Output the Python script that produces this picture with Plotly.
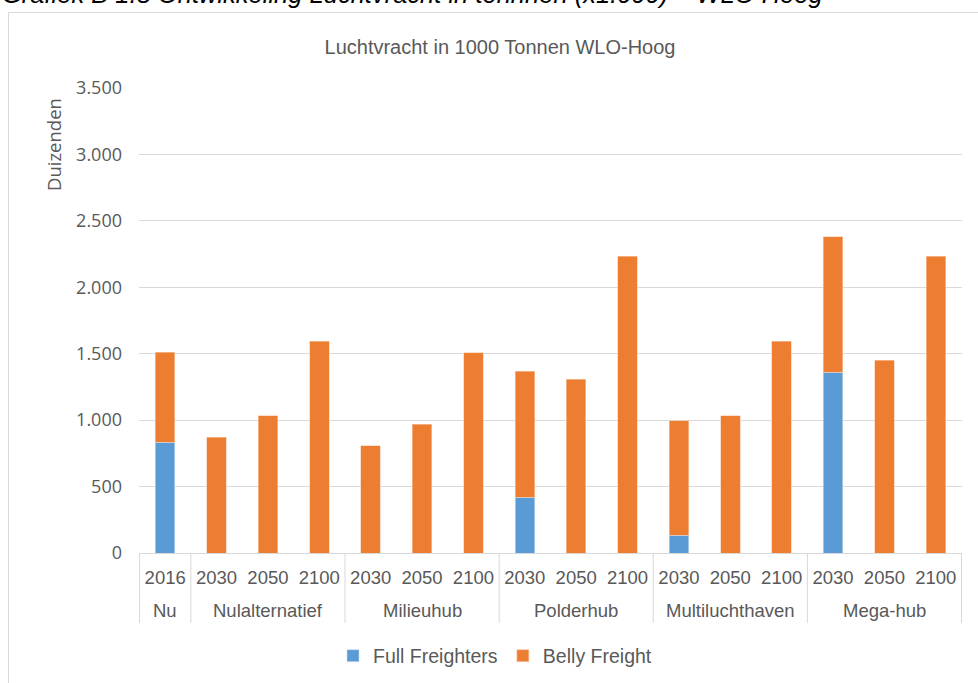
import plotly.graph_objects as go

# scenario groups and years
groups = ["Nu", "Nulalternatief", "Nulalternatief", "Nulalternatief",
          "Milieuhub", "Milieuhub", "Milieuhub",
          "Polderhub", "Polderhub", "Polderhub",
          "Multiluchthaven", "Multiluchthaven", "Multiluchthaven",
          "Mega-hub", "Mega-hub", "Mega-hub"]
years = ["2016", "2030", "2050", "2100",
         "2030", "2050", "2100",
         "2030", "2050", "2100",
         "2030", "2050", "2100",
         "2030", "2050", "2100"]

# values in 1000 tonnes (axis is "Duizenden")
full_freighters = [833, 0, 0, 0, 0, 0, 0, 419, 0, 0, 133, 0, 0, 1362, 0, 0]
belly_freight = [679, 870, 1033, 1593, 807, 968, 1507, 950, 1307, 2232,
                 862, 1033, 1595, 1018, 1450, 2232]

y_ticks = [0, 500, 1000, 1500, 2000, 2500, 3000, 3500]
y_tick_text = ["0", "500", "1.000", "1.500", "2.000", "2.500", "3.000", "3.500"]

BLUE = "#5B9BD5"
ORANGE = "#ED7D31"
GREY_TXT = "#595959"
GRID = "#D9D9D9"
SANS = "Liberation Sans, Arial, sans-serif"

# plot area in pixels
W, H = 978, 683
ML, MR, MT, MB = 139, 16, 88, 130
PW, PH = W - ML - MR, H - MT - MB


def px_x(px):
    return (px - ML) / PW


def px_y(py):
    return (H - MB - py) / PH


keys = [g + "|" + y for g, y in zip(groups, years)]

fig = go.Figure()
fig.add_trace(go.Bar(x=keys, y=full_freighters, name="Full Freighters",
                     marker=dict(color=BLUE, line=dict(width=0.6, color="#C9DDF0"))))
fig.add_trace(go.Bar(x=keys, y=belly_freight, name="Belly Freight",
                     marker=dict(color=ORANGE, line=dict(width=0.6, color="#F8CBAD"))))

fig.update_layout(
    width=W, height=H,
    margin=dict(l=ML, r=MR, t=MT, b=MB, autoexpand=False),
    barmode="stack", bargap=0.62,
    plot_bgcolor="white", paper_bgcolor="white",
    title=dict(text="Luchtvracht in 1000 Tonnen WLO-Hoog", xref="container", x=500 / W,
               xanchor="center", yref="container", y=1 - 47 / H, yanchor="middle",
               font=dict(family=SANS, size=20, color=GREY_TXT)),
    legend=dict(orientation="h", x=px_x(333), xanchor="left", y=px_y(656), yanchor="middle",
                font=dict(family=SANS, size=19.5, color=GREY_TXT), itemwidth=30,
                traceorder="normal", borderwidth=0),
    showlegend=True,
)

fig.update_xaxes(type="category", tickvals=keys, ticktext=years, automargin=False,
                 showline=True, linecolor=GRID, linewidth=1, ticks="",
                 ticklabelstandoff=8,
                 tickfont=dict(family=SANS, size=18.5, color=GREY_TXT), showgrid=False)
fig.update_yaxes(range=[0, 3500], tickvals=y_ticks, ticktext=y_tick_text, automargin=False,
                 showgrid=True, gridcolor=GRID, gridwidth=1, zeroline=False,
                 tickfont=dict(family="Open Sans, sans-serif", size=18, color=GREY_TXT),
                 ticklabelstandoff=16)

# y axis title near the top of the axis
fig.add_annotation(text="Duizenden", textangle=-90, xref="paper", yref="paper",
                   x=px_x(53), y=px_y(145), xanchor="center", yanchor="middle",
                   showarrow=False,
                   font=dict(family="Open Sans, sans-serif", size=18.5, color=GREY_TXT))

# group dividers and group labels under the year labels
bounds = [i for i in range(1, len(groups)) if groups[i] != groups[i - 1]]
edges = [0] + bounds + [len(groups)]
for e in edges:
    fig.add_shape(type="line", xref="x", yref="paper", x0=e - 0.5, x1=e - 0.5,
                  y0=0, y1=px_y(623), line=dict(color=GRID, width=1))
for a, b in zip(edges[:-1], edges[1:]):
    fig.add_annotation(text=groups[a], xref="x", yref="paper", x=(a + b - 1) / 2,
                       y=px_y(610), xanchor="center", yanchor="middle", showarrow=False,
                       font=dict(family=SANS, size=18.5, color=GREY_TXT))

# outer chart border
fig.add_shape(type="rect", xref="paper", yref="paper",
              x0=px_x(8.5), x1=px_x(990), y0=px_y(720), y1=px_y(12.5),
              line=dict(color=GRID, width=1), fillcolor="rgba(0,0,0,0)", layer="below")

# document caption, partly cut off at the top of the picture
fig.add_annotation(text="<i>Grafiek B 1.8 Ontwikkeling Luchtvracht in tonnnen (x1.000) – WLO Hoog</i>",
                   xref="paper", yref="paper", x=px_x(0), xanchor="left",
                   y=px_y(-6.5), yanchor="middle", showarrow=False,
                   font=dict(family=SANS, size=25.5, color="black"))

fig.write_html("out.html", config={"displayModeBar": False},
               post_script="document.body.style.margin='0';")
